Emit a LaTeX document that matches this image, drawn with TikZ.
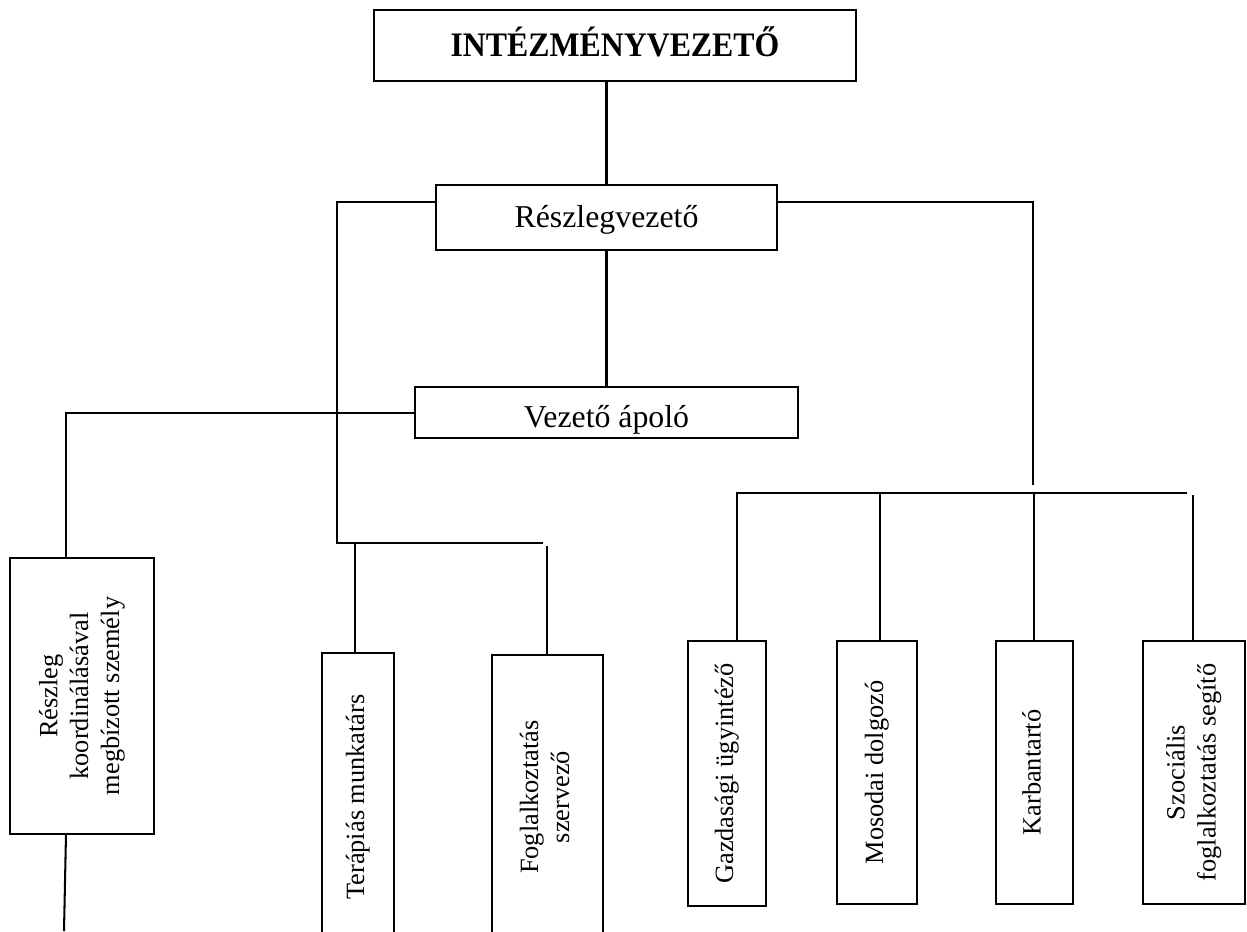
\documentclass[tikz,border=0pt]{standalone}
\usepackage{fontspec}
\setmainfont{Liberation Serif}
\usepackage{graphicx}
\newcommand{\vtext}[1]{\rotatebox{90}{\begin{tabular}{@{}c@{}}#1\end{tabular}}}
\begin{document}
\begin{tikzpicture}[x=0.44pt, y=-0.44pt,
  hbox/.style={draw, line width=1pt, inner sep=0pt, outer sep=0pt, font=\fontsize{14}{16.8}\selectfont},
  vbox/.style={draw, line width=1pt, inner sep=0pt, outer sep=0pt, font=\fontsize{11.6}{13.6}\selectfont},
  conn/.style={line width=0.9pt}]
\useasboundingbox (0,0) rectangle (1247,931);
\clip (0,0) rectangle (1247,931);

% boxes
\node[hbox, minimum width=212.08pt, minimum height=31.24pt, text height=20.68pt, text depth=10.56pt, font=\fontsize{14}{16.8}\selectfont\bfseries] (top) at (615,45.5) {\scalebox{1}[1.08]{INTÉZMÉNYVEZETŐ}};
\node[hbox, minimum width=150.04pt, minimum height=28.6pt, text height=18.48pt, text depth=10.12pt] (rv) at (606.5,217.5) {Részlegvezető};
\node[hbox, minimum width=168.52pt, minimum height=22.44pt, text height=17.6pt, text depth=4.84pt] (va) at (606.5,412.5) {Vezető ápoló};

\node[vbox, minimum width=63.36pt, minimum height=121.44pt] (lb) at (82,696) {\vtext{Részleg\\koordinálásával\\megbízott személy}};
\node[vbox, minimum width=31.68pt, minimum height=126.72pt] (tm) at (358,797) {\vtext{Terápiás munkatárs}};
\node[vbox, minimum width=48.84pt, minimum height=124.96pt] (fs) at (547.5,797) {\vtext{Foglalkoztatás\\szervező}};
\node[vbox, minimum width=34.32pt, minimum height=116.6pt] (gu) at (727,773.5) {\vtext{Gazdasági ügyintéző}};
\node[vbox, minimum width=35.2pt, minimum height=115.72pt] (md) at (877,772.5) {\vtext{Mosodai dolgozó}};
\node[vbox, minimum width=33.88pt, minimum height=115.72pt] (kb) at (1034.5,772.5) {\vtext{Karbantartó}};
\node[vbox, minimum width=44.88pt, minimum height=115.72pt] (sz) at (1194,772.5) {\vtext{Szociális\\foglalkoztatás segítő}};

% junction coordinates
\coordinate (L1) at (337,202);
\coordinate (L2) at (337,543);
\coordinate (L3) at (543,543);
\coordinate (R1) at (1033,202);
\coordinate (R2) at (1033,485);
\coordinate (V1) at (66,413);
\coordinate (B1) at (64,931);
\coordinate (T1) at (355,543);
\coordinate (F1) at (547,546);
\coordinate (H1) at (736,493);
\coordinate (H2) at (1187,493);
\coordinate (G1) at (737,493);
\coordinate (M1) at (880,493);
\coordinate (K1) at (1034,493);
\coordinate (S1) at (1193,495);

% connectors
\draw[conn] (rv.north |- top.south) -- (rv.north);
\draw[conn] (rv.west |- L1) -- (L1) -- (L2) -- (L3);
\draw[conn] (rv.east |- R1) -- (R1) -- (R2);
\draw[conn] (rv.south) -- (va.north);
\draw[conn] (va.west |- V1) -- (V1) -- (V1 |- lb.north);
\draw[conn] (V1 |- lb.south) -- (B1);
\draw[conn] (T1) -- (T1 |- tm.north);
\draw[conn] (F1) -- (F1 |- fs.north);
\draw[conn] (H1) -- (H2);
\draw[conn] (G1) -- (G1 |- gu.north);
\draw[conn] (M1) -- (M1 |- md.north);
\draw[conn] (K1) -- (K1 |- kb.north);
\draw[conn] (S1) -- (S1 |- sz.north);
\end{tikzpicture}
\end{document}
